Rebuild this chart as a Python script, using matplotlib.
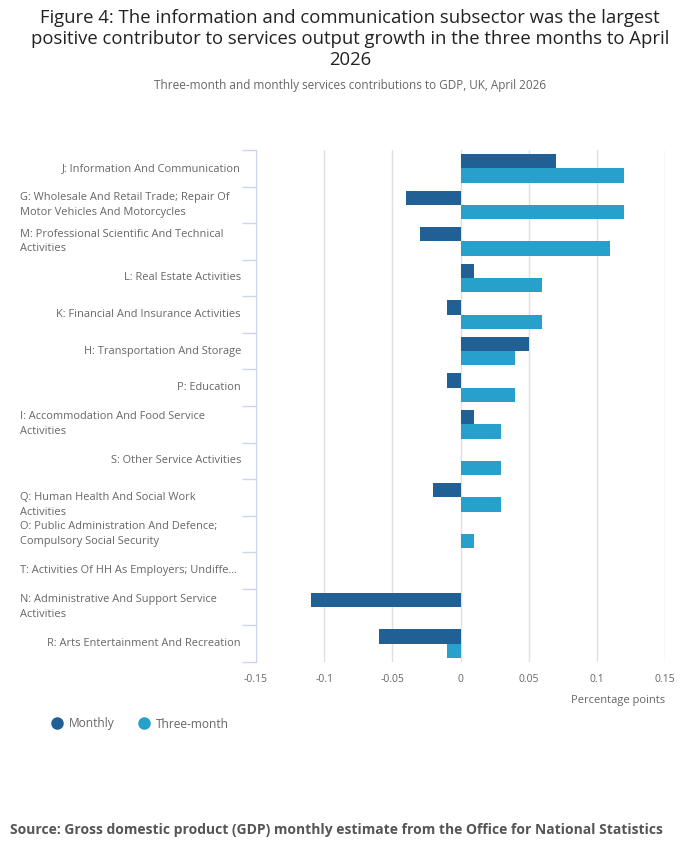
import numpy as np
import matplotlib
matplotlib.use("Agg")
import matplotlib.pyplot as plt
from matplotlib.lines import Line2D
from matplotlib.transforms import blended_transform_factory

plt.rcParams['font.family'] = ['Open Sans', 'DejaVu Sans']

# data
categories = [
    "J: Information And Communication",
    "G: Wholesale And Retail Trade; Repair Of\nMotor Vehicles And Motorcycles",
    "M: Professional Scientific And Technical\nActivities",
    "L: Real Estate Activities",
    "K: Financial And Insurance Activities",
    "H: Transportation And Storage",
    "P: Education",
    "I: Accommodation And Food Service\nActivities",
    "S: Other Service Activities",
    "Q: Human Health And Social Work\nActivities",
    "O: Public Administration And Defence;\nCompulsory Social Security",
    "T: Activities Of HH As Employers; Undiffe...",
    "N: Administrative And Support Service\nActivities",
    "R: Arts Entertainment And Recreation",
]
monthly = [0.07, -0.04, -0.03, 0.01, -0.01, 0.05, -0.01, 0.01, 0.0, -0.02, 0.0, 0.0, -0.11, -0.06]
three_month = [0.12, 0.12, 0.11, 0.06, 0.06, 0.04, 0.04, 0.03, 0.03, 0.03, 0.01, 0.0, 0.0, -0.01]
xticks = [-0.15, -0.1, -0.05, 0, 0.05, 0.1, 0.15]
xtick_labels = ["-0.15", "-0.1", "-0.05", "0", "0.05", "0.1", "0.15"]

dark = "#206095"
light = "#27a0cc"
grey = "#666666"

fig = plt.figure(figsize=(7, 8.57), dpi=100)
ax = fig.add_axes([256/700, 1-662/857, 409/700, 512/857])

y = np.arange(len(categories))
h = 0.39
ax.barh(y - h/2, monthly, height=h, color=dark, zorder=3)
ax.barh(y + h/2, three_month, height=h, color=light, zorder=3)

ax.set_ylim(len(categories) - 0.5, -0.5)
ax.set_xlim(-0.15, 0.15)
ax.set_xticks(xticks)
ax.set_xticklabels(xtick_labels, fontsize=7.5, color=grey)
ax.tick_params(axis='x', length=0, pad=9)
ax.grid(axis='x', color='#e0e0e0', linewidth=1, zorder=0)

# category axis: ticks between categories, labels placed by hand
ax.set_yticks(np.arange(len(categories) + 1) - 0.5)
ax.set_yticklabels([])
ax.tick_params(axis='y', length=10, color='#ccd6eb', width=1)
for s in ['top', 'right', 'bottom']:
    ax.spines[s].set_visible(False)
ax.spines['left'].set_color('#ccd6eb')

trans = blended_transform_factory(ax.transAxes, ax.transData)
for i, cat in enumerate(categories):
    if "\n" in cat or cat.endswith("..."):
        yy = i + (0.2 if cat.startswith("Q:") else 0)
        ax.text((20-256)/409, yy, cat, transform=trans, ha='left', va='center',
                fontsize=7.9, color=grey, linespacing=1.45)
    else:
        ax.text((241-256)/409, i, cat, transform=trans, ha='right', va='center',
                fontsize=7.9, color=grey)

ax.text(1.0, -0.075, "Percentage points", transform=ax.transAxes, ha='right',
        va='center', fontsize=8, color=grey)

handles = [Line2D([], [], marker='o', linestyle='', markersize=8, color=dark),
           Line2D([], [], marker='o', linestyle='', markersize=8, color=light)]
fig.legend(handles, ["Monthly", "Three-month"], loc='center left',
           bbox_to_anchor=(40/700, 1-724/857), ncol=2, frameon=False,
           fontsize=8.6, labelcolor=grey, handletextpad=0.55, columnspacing=1.9,
           handlelength=1.0)

fig.text(0.5, 1-39/857, "Figure 4: The information and communication subsector was the largest\n"
         "positive contributor to services output growth in the three months to April\n2026",
         ha='center', va='center', fontsize=13.3, color='#222222', linespacing=1.2)
fig.text(0.5, 1-86/857, "Three-month and monthly services contributions to GDP, UK, April 2026",
         ha='center', va='center', fontsize=8.5, color=grey)
fig.text(10/700, 1-830/857, "Source: Gross domestic product (GDP) monthly estimate from the Office for National Statistics",
         ha='left', va='center', fontsize=10, color='#555555', fontweight='bold')

fig.savefig("out.png", dpi=100)
